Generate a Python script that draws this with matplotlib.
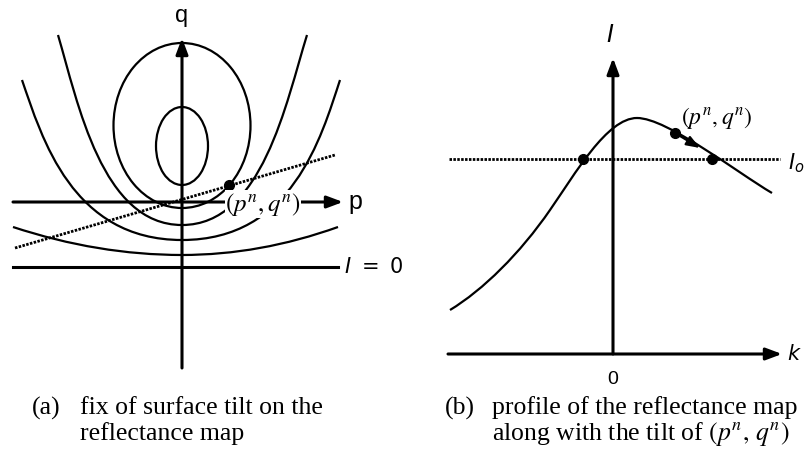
import matplotlib
matplotlib.use("Agg")
import matplotlib.pyplot as plt
from matplotlib.path import Path
from matplotlib.patches import PathPatch, Ellipse

M, C3, C4 = Path.MOVETO, Path.CURVE3, Path.CURVE4

# (a) iso-brightness contours of the reflectance map in the (p, q) plane
ellipse_centre = [(0, 56), (0, 76.5)]
ellipse_width = [52, 137]
ellipse_height = [78, 165]

# open contours as bezier control points
contour_u1 = [(-124, 167), (-104, 99), (-80, -23), (0, -23),
              (80, -23), (104, 99), (125, 167)]
contour_u2 = [(-160, 122), (-140, 64), (-110, -38), (0, -38),
              (110, -38), (139, 64), (158, 122)]
contour_u3 = [(-169, -25), (-84, -53), (0, -53), (78, -53), (156, -25)]

zero_q = -65
tilt_line = [(-167, -46), (153, 47)]
tilt_point = (47, 17)

# (b) profile of R along the tilt direction, k vs I
profile = [(-163, 44), (-130, 64), (-93, 100.5), (-63, 144),
           (-38, 180), (-6, 236), (24, 236),
           (54, 236), (124, 181.6), (159, 161)]
I0 = 195
crossing_k = [-30, 99]
tilt_start = (62, 221)
tilt_end = (87, 206)

LW_AX = 2.2
LW_C = 1.6
dotted = (0, (0.9, 0.5))
CAP = 18.5


def bezier(ax, pts, codes):
    ax.add_patch(PathPatch(Path(pts, codes), fc="none", ec="k", lw=LW_C))


def arrow(ax, start, tip, lw=LW_AX, ms=12):
    ax.annotate("", xy=tip, xytext=start,
                arrowprops=dict(arrowstyle="-|>,head_length=0.8,head_width=0.3",
                                lw=lw, color="k", shrinkA=0, shrinkB=0,
                                mutation_scale=ms))


fig = plt.figure(figsize=(8.06, 4.51), dpi=100)

# ---------------- panel (a) ----------------
axa = fig.add_axes([0, 0, 403 / 806, 1])
axa.set_xlim(-182, 221)
axa.set_ylim(-249, 202)
axa.axis("off")

for c, w, h in zip(ellipse_centre, ellipse_width, ellipse_height):
    axa.add_patch(Ellipse(c, w, h, fc="none", ec="k", lw=LW_C))

bezier(axa, contour_u1, [M] + [C4] * 6)
bezier(axa, contour_u2, [M] + [C4] * 6)
bezier(axa, contour_u3, [M] + [C3] * 4)

axa.plot([-169, 156], [zero_q, zero_q], color="k", lw=LW_AX)
axa.plot(*zip(*tilt_line), color="k", lw=2.0, linestyle=dotted)
axa.plot(*tilt_point, "o", color="k", ms=7)

arrow(axa, (-169, 0), (161, 0))
arrow(axa, (0, -166), (0, 164))

axa.text(0, 186, "q", fontsize=17, ha="center", va="center",
         family="Liberation Sans")
axa.text(166, 0, "p", fontsize=18, ha="left", va="center",
         family="Liberation Sans")
axa.text(162, zero_q, r"$I\ =\ 0$", fontsize=15, ha="left", va="center")
axa.text(81, -2, r"$(p^{n},q^{n})$", fontsize=18, ha="center", va="center",
         math_fontfamily="stix", zorder=5,
         bbox=dict(fc="white", ec="none", pad=0.3))

axa.text(-150, -206, "(a)", fontsize=CAP, family="Liberation Serif",
         ha="left", va="center")
axa.text(-102, -206, "fix of surface tilt on the", fontsize=CAP,
         family="Liberation Serif", ha="left", va="center")
axa.text(-102, -232, "reflectance map", fontsize=CAP,
         family="Liberation Serif", ha="left", va="center")

# ---------------- panel (b) ----------------
axb = fig.add_axes([403 / 806, 0, 403 / 806, 1])
axb.set_xlim(-210, 193)
axb.set_ylim(-97, 354)
axb.axis("off")

bezier(axb, profile, [M] + [C4] * 9)
axb.plot([-164, 167], [I0, I0], color="k", lw=2.0, linestyle=dotted)
axb.plot(crossing_k, [I0] * len(crossing_k), "o", color="k", ms=7)
axb.plot(*tilt_start, "o", color="k", ms=7)
arrow(axb, tilt_start, tilt_end, lw=1.6, ms=10)

arrow(axb, (-165, 0), (169, 0))
arrow(axb, (0, 0), (0, 296))

axb.text(-3, 319, r"$I$", fontsize=17, ha="center", va="center")
axb.text(174, 0, r"$k$", fontsize=15, ha="left", va="center")
axb.text(0, -26, "0", fontsize=14, ha="center", va="center",
         family="Liberation Sans")
axb.text(175, I0 - 4, r"$I_o$", fontsize=15, ha="left", va="center")
axb.text(104, 236, r"$(p^{n},q^{n})$", fontsize=17, ha="center", va="center",
         math_fontfamily="stix")

axb.text(-168, -54, "(b)", fontsize=CAP, family="Liberation Serif",
         ha="left", va="center")
axb.text(-121, -54, "profile of the reflectance map", fontsize=CAP,
         family="Liberation Serif", ha="left", va="center")
axb.text(-121, -80, r"along with the tilt of $(p^{n},\,q^{n})$", fontsize=CAP,
         family="Liberation Serif", ha="left", va="center",
         math_fontfamily="stix")

fig.savefig("out.png", dpi=100)
